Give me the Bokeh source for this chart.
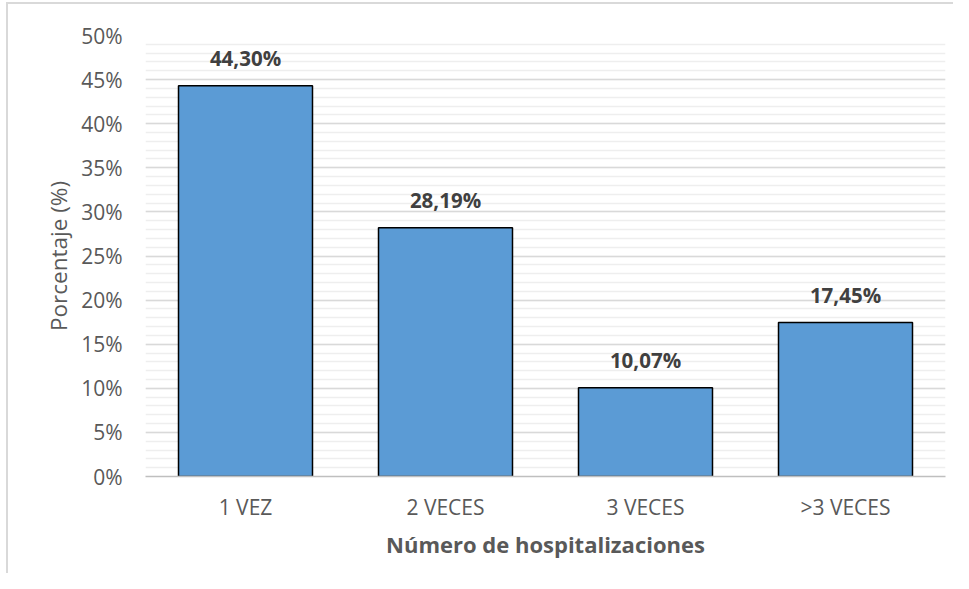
from bokeh.plotting import figure
from bokeh.models import ColumnDataSource, SingleIntervalTicker, PrintfTickFormatter, Range1d
from bokeh.core.properties import value
from bokeh.embed import file_html
from bokeh.resources import INLINE

categories = ["1 VEZ", "2 VECES", "3 VECES", ">3 VECES"]
percentages = [44.30, 28.19, 10.07, 17.45]
x_title = "Número de hospitalizaciones"
y_title = "Porcentaje (%)"

labels = [f"{v:.2f}".replace(".", ",") + "%" for v in percentages]
source = ColumnDataSource(data=dict(cat=categories, val=percentages, lab=labels))

FONT = "Open Sans"

p = figure(x_range=categories, y_range=Range1d(0, 50),
           frame_width=800, frame_height=441,
           min_border_left=137, min_border_top=31, min_border_right=8, min_border_bottom=97,
           output_backend="svg", toolbar_location=None, tools="")
p.styles = {"border-left": "2px solid #d9d9d9", "border-top": "2px solid #d9d9d9",
            "margin-left": "6px", "margin-top": "2px"}
p.outline_line_color = None
p.background_fill_color = "white"
p.border_fill_color = "white"

p.vbar(x="cat", top="val", width=0.67, source=source,
       fill_color="#5B9BD5", line_color="black", line_width=1.5)

p.text(x="cat", y="val", text="lab", source=source,
       text_font=value(FONT), text_font_style="bold", text_font_size="20.5px",
       text_color="#404040", text_align="center", text_baseline="bottom",
       y_offset=-14)

# y axis
p.yaxis.ticker = SingleIntervalTicker(interval=5, num_minor_ticks=5)
p.yaxis.formatter = PrintfTickFormatter(format="%d%%")
p.yaxis.axis_line_color = None
p.yaxis.major_tick_line_color = None
p.yaxis.minor_tick_line_color = None
p.yaxis.major_label_text_font = FONT
p.yaxis.major_label_text_font_size = "21px"
p.yaxis.major_label_text_color = "#595959"
p.yaxis.major_label_standoff = 17
p.yaxis.axis_label = y_title
p.yaxis.axis_label_text_font = FONT
p.yaxis.axis_label_text_font_size = "22.5px"
p.yaxis.axis_label_text_font_style = "normal"
p.yaxis.axis_label_text_color = "#595959"
p.yaxis.axis_label_standoff = 4

# x axis
p.xaxis.axis_line_color = "#bfbfbf"
p.xaxis.axis_line_width = 1.5
p.xaxis.major_tick_line_color = None
p.xaxis.minor_tick_line_color = None
p.xaxis.major_label_text_font = FONT
p.xaxis.major_label_text_font_size = "21px"
p.xaxis.major_label_text_color = "#595959"
p.xaxis.major_label_standoff = 10
p.xaxis.axis_label = x_title
p.xaxis.axis_label_text_font = FONT
p.xaxis.axis_label_text_font_size = "22px"
p.xaxis.axis_label_text_font_style = "bold"
p.xaxis.axis_label_text_color = "#595959"
p.xaxis.axis_label_standoff = 5

# grids
p.xgrid.grid_line_color = None
p.ygrid.grid_line_color = "#d9d9d9"
p.ygrid.grid_line_width = 1.5
p.ygrid.minor_grid_line_color = "#eeeeee"
p.ygrid.minor_grid_line_width = 1.5
p.ygrid.level = "underlay"

open("out.html", "w").write(file_html(p, INLINE))
